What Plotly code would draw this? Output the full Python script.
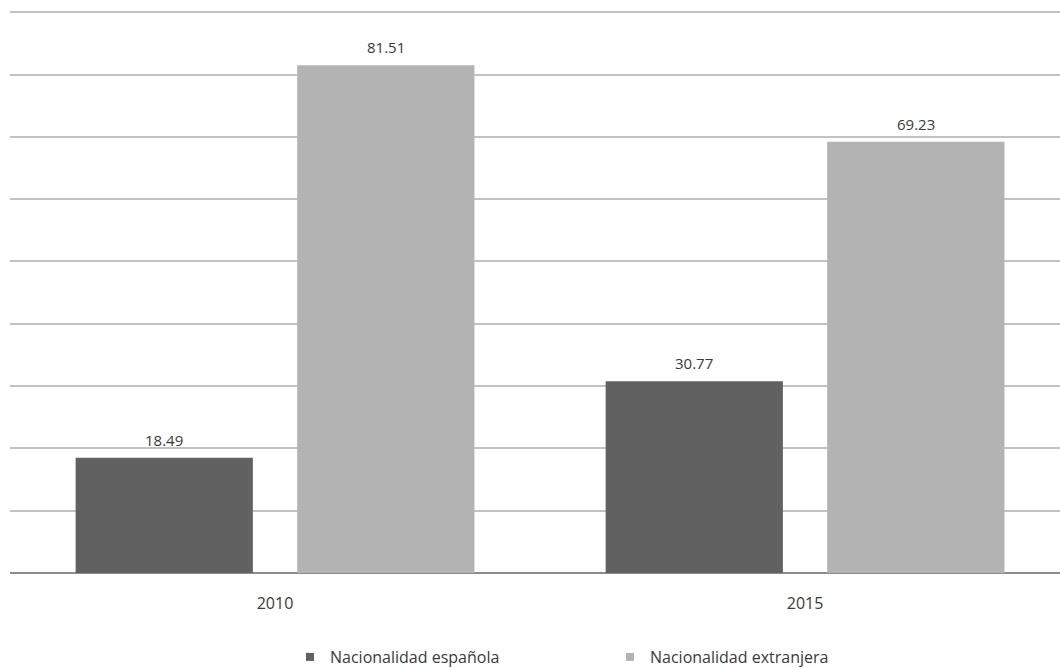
import plotly.graph_objects as go

years = ["2010", "2015"]
espanola = [18.49, 30.77]
extranjera = [81.51, 69.23]
series_names = ["Nacionalidad española", "Nacionalidad extranjera"]
series_colors = ["#616161", "#b3b3b3"]

font_family = "Open Sans, Lato, sans-serif"
text_color = "#3a3a3a"
bargap = 0.164

fig = go.Figure()
for name, vals, col in zip(series_names, (espanola, extranjera), series_colors):
    fig.add_trace(go.Bar(
        x=years, y=vals, name=name, showlegend=False,
        marker=dict(color=col, line=dict(width=0)),
    ))
# legend entries with small square swatches
for name, col in zip(series_names, series_colors):
    fig.add_trace(go.Scatter(
        x=[None], y=[None], name=name, mode="markers",
        marker=dict(symbol="square", size=8, color=col),
    ))

# value labels above bars (positioned via the category axis scale)
offset = (1 - bargap) / 4
for series, sign in ((espanola, -1), (extranjera, 1)):
    for i, v in enumerate(series):
        fig.add_annotation(
            x=i + sign * offset, y=v, xref="x", yref="y",
            text=f"{v:.2f}", showarrow=False,
            yanchor="bottom", yshift=6,
            font=dict(size=15, color=text_color, family=font_family),
        )

fig.update_layout(
    width=1060, height=668,
    margin=dict(l=10, r=0, t=6, b=95),
    paper_bgcolor="white", plot_bgcolor="white",
    barmode="group", bargap=bargap, bargroupgap=0.2,
    font=dict(family=font_family, color=text_color, size=15),
    showlegend=True,
    legend=dict(
        orientation="h", xref="container", x=290 / 1060, xanchor="left",
        yref="container", y=(668 - 657) / 668, yanchor="middle",
        font=dict(size=16, color=text_color, family=font_family),
        entrywidth=275, entrywidthmode="pixels",
    ),
)
fig.update_xaxes(
    type="category", range=[-0.5, 1.481],
    showgrid=False, showline=False, ticks="",
    tickfont=dict(size=16, color=text_color),
    ticklabelstandoff=19,
)
fig.update_yaxes(
    range=[0, 91], dtick=10, showticklabels=False,
    showgrid=True, gridcolor="#c2c2c2", gridwidth=2,
    zeroline=True, zerolinecolor="#8c8c8c", zerolinewidth=2,
    showline=False, ticks="",
)

fig.write_html("out.html")
